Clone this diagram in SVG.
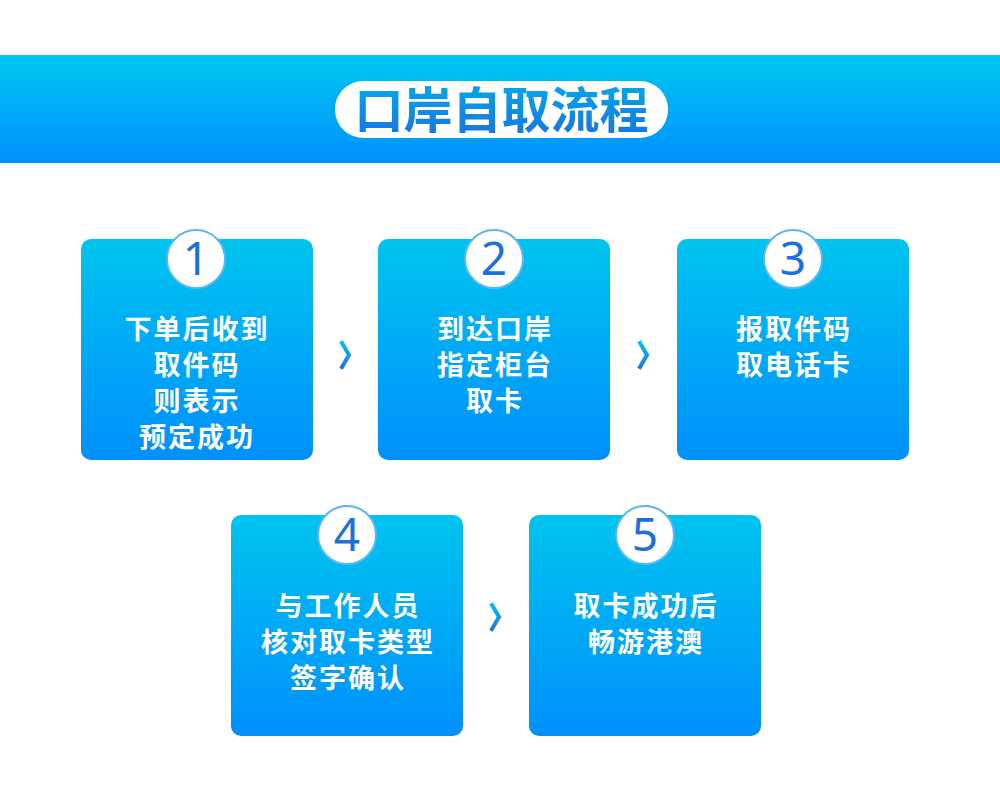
<svg xmlns="http://www.w3.org/2000/svg" width="1000" height="791" viewBox="0 0 1000 791">
<defs>
<linearGradient id="bannerG" x1="0" y1="0" x2="0" y2="1"><stop offset="0" stop-color="#00c6ef"/><stop offset="1" stop-color="#0090fe"/></linearGradient>
<linearGradient id="cardG" x1="0" y1="0" x2="0" y2="1"><stop offset="0" stop-color="#00c4ee"/><stop offset="1" stop-color="#0090fd"/></linearGradient>
<linearGradient id="titleG" x1="0" y1="0" x2="0" y2="1"><stop offset="0" stop-color="#00b4ec"/><stop offset="1" stop-color="#1a6fe0"/></linearGradient>
<linearGradient id="chevG" x1="0" y1="0" x2="0" y2="1"><stop offset="0" stop-color="#00c0ee"/><stop offset="1" stop-color="#1a78e8"/></linearGradient>
<style>
.card{fill:url(#cardG);}
.badge{fill:#ffffff;stroke:#5bb8ee;stroke-width:2;}
.num{font-family:"Noto Sans","Liberation Sans",sans-serif;font-size:46px;fill:#1b70dc;text-anchor:middle;}
.lbl{font-family:"Noto Sans CJK SC",sans-serif;font-weight:bold;font-size:27px;letter-spacing:2px;fill:#ffffff;text-anchor:middle;}
.chev{fill:none;stroke:url(#chevG);stroke-width:4;stroke-linecap:square;}
</style>
</defs>
<rect x="0" y="0" width="1000" height="791" fill="#ffffff"/>
<g id="banner">
<rect x="0" y="55" width="1000" height="108" fill="url(#bannerG)"/>
<rect x="335" y="81" width="333" height="57" rx="28" fill="#ffffff"/>
<text x="501.5" y="128" font-family="Noto Sans CJK SC,sans-serif" font-weight="bold" font-size="49" fill="url(#titleG)" text-anchor="middle">口岸自取流程</text>
</g>
<g id="connectors">
<polyline class="chev" points="342,343 349,355 342,367"/>
<polyline class="chev" points="640,343 647,355 640,367"/>
<polyline class="chev" points="492,605 499,617 492,629"/>
</g>
<g id="step1">
<rect class="card" x="81" y="239" width="232" height="221" rx="10"/>
<circle class="badge" cx="196" cy="259" r="29"/>
<text class="num" x="196" y="275">1</text>
<text class="lbl" x="197" y="339">下单后收到</text>
<text class="lbl" x="197" y="375">取件码</text>
<text class="lbl" x="197" y="411">则表示</text>
<text class="lbl" x="197" y="447">预定成功</text>
</g>
<g id="step2">
<rect class="card" x="378" y="239" width="232" height="221" rx="10"/>
<circle class="badge" cx="494" cy="259" r="29"/>
<text class="num" x="494" y="275">2</text>
<text class="lbl" x="495" y="339">到达口岸</text>
<text class="lbl" x="495" y="375">指定柜台</text>
<text class="lbl" x="495" y="411">取卡</text>
</g>
<g id="step3">
<rect class="card" x="677" y="239" width="232" height="221" rx="10"/>
<circle class="badge" cx="793" cy="259" r="29"/>
<text class="num" x="793" y="275">3</text>
<text class="lbl" x="794" y="339">报取件码</text>
<text class="lbl" x="794" y="375">取电话卡</text>
</g>
<g id="step4">
<rect class="card" x="231" y="515" width="232" height="221" rx="10"/>
<circle class="badge" cx="347" cy="535" r="29"/>
<text class="num" x="347" y="551">4</text>
<text class="lbl" x="348" y="616">与工作人员</text>
<text class="lbl" x="348" y="652">核对取卡类型</text>
<text class="lbl" x="348" y="688">签字确认</text>
</g>
<g id="step5">
<rect class="card" x="529" y="515" width="232" height="221" rx="10"/>
<circle class="badge" cx="645" cy="535" r="29"/>
<text class="num" x="645" y="551">5</text>
<text class="lbl" x="646" y="616">取卡成功后</text>
<text class="lbl" x="646" y="652">畅游港澳</text>
</g>
</svg>
